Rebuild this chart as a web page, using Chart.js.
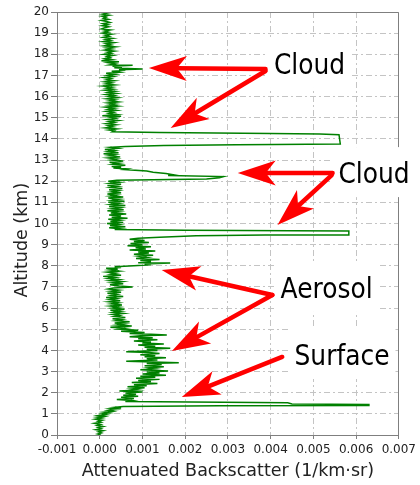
<!DOCTYPE html>
<html>
<head>
<meta charset="utf-8">
<script src="https://cdn.jsdelivr.net/npm/chart.js@4.4.1/dist/chart.umd.min.js"></script>
<style>
  html, body { margin: 0; padding: 0; background: #fff; }
  #wrap { width: 420px; height: 485px; }
</style>
</head>
<body>
<div id="wrap"><canvas id="profileChart" width="420" height="485"></canvas></div>
<script>
// Lidar profile (altitude in km, backscatter in 1/km·sr)
const altitudeKm = [
  20.00, 19.98, 19.95, 19.90, 19.85, 19.80, 19.75, 19.70, 19.65, 19.60,
  19.55, 19.50, 19.45, 19.40, 19.35, 19.30, 19.25, 19.20, 19.15, 19.10,
  19.05, 19.00, 18.95, 18.90, 18.85, 18.80, 18.75, 18.70, 18.65, 18.60,
  18.55, 18.50, 18.45, 18.40, 18.35, 18.30, 18.25, 18.20, 18.15, 18.10,
  18.05, 18.00, 17.95, 17.90, 17.85, 17.80, 17.75, 17.70, 17.65, 17.60,
  17.55, 17.50, 17.48, 17.44, 17.40, 17.36, 17.33, 17.30, 17.27, 17.24,
  17.20, 17.15, 17.10, 17.05, 17.00, 16.95, 16.90, 16.85, 16.80, 16.75,
  16.70, 16.65, 16.60, 16.55, 16.50, 16.45, 16.40, 16.35, 16.30, 16.25,
  16.20, 16.15, 16.10, 16.05, 16.00, 15.95, 15.90, 15.85, 15.80, 15.75,
  15.70, 15.65, 15.60, 15.55, 15.50, 15.45, 15.40, 15.35, 15.30, 15.25,
  15.20, 15.15, 15.10, 15.07, 15.02, 14.97, 14.92, 14.87, 14.82, 14.77,
  14.72, 14.67, 14.62, 14.57, 14.52, 14.47, 14.42, 14.38, 14.34, 14.30,
  14.25, 14.23, 14.20, 13.76, 13.74, 13.72, 13.69, 13.64, 13.60, 13.55,
  13.50, 13.45, 13.40, 13.35, 13.30, 13.25, 13.20, 13.15, 13.10, 13.05,
  13.00, 12.95, 12.90, 12.85, 12.80, 12.75, 12.70, 12.66, 12.62, 12.58,
  12.55, 12.48, 12.42, 12.36, 12.30, 12.27, 12.22, 12.16, 12.10, 12.04,
  12.00, 11.95, 11.90, 11.85, 11.80, 11.75, 11.70, 11.65, 11.60, 11.55,
  11.50, 11.45, 11.40, 11.35, 11.30, 11.25, 11.20, 11.15, 11.10, 11.05,
  11.00, 10.95, 10.90, 10.85, 10.80, 10.75, 10.70, 10.65, 10.60, 10.55,
  10.50, 10.45, 10.40, 10.35, 10.30, 10.25, 10.20, 10.15, 10.10, 10.05,
  10.00, 9.95, 9.90, 9.85, 9.80, 9.75, 9.72, 9.68, 9.66, 9.65,
  9.46, 9.46, 9.42, 9.35, 9.30, 9.25, 9.20, 9.15, 9.10, 9.05,
  9.00, 8.95, 8.90, 8.85, 8.80, 8.75, 8.70, 8.65, 8.60, 8.55,
  8.50, 8.45, 8.40, 8.35, 8.30, 8.25, 8.20, 8.15, 8.13, 8.09,
  8.05, 8.00, 7.96, 7.92, 7.88, 7.84, 7.80, 7.75, 7.70, 7.65,
  7.60, 7.55, 7.50, 7.45, 7.40, 7.35, 7.30, 7.25, 7.20, 7.15,
  7.10, 7.05, 7.00, 6.95, 6.90, 6.85, 6.80, 6.75, 6.70, 6.65,
  6.60, 6.55, 6.50, 6.45, 6.40, 6.35, 6.30, 6.25, 6.20, 6.15,
  6.10, 6.05, 6.00, 5.95, 5.90, 5.85, 5.80, 5.75, 5.70, 5.65,
  5.60, 5.55, 5.50, 5.45, 5.40, 5.35, 5.30, 5.25, 5.20, 5.15,
  5.10, 5.05, 5.00, 4.95, 4.90, 4.85, 4.80, 4.76, 4.73, 4.69,
  4.65, 4.60, 4.55, 4.50, 4.45, 4.40, 4.35, 4.30, 4.25, 4.20,
  4.15, 4.10, 4.05, 4.00, 3.94, 3.90, 3.85, 3.80, 3.75, 3.70,
  3.65, 3.60, 3.55, 3.49, 3.45, 3.42, 3.38, 3.33, 3.28, 3.23,
  3.18, 3.13, 3.08, 3.03, 2.98, 2.93, 2.88, 2.83, 2.78, 2.73,
  2.68, 2.63, 2.58, 2.53, 2.48, 2.43, 2.38, 2.33, 2.28, 2.23,
  2.18, 2.13, 2.08, 2.03, 1.98, 1.93, 1.88, 1.83, 1.78, 1.73,
  1.68, 1.63, 1.58, 1.52, 1.47, 1.44, 1.40, 1.38, 1.35, 1.31,
  1.28, 1.24, 1.20, 1.16, 1.12, 1.08, 1.04, 1.00, 0.96, 0.92,
  0.88, 0.84, 0.80, 0.75, 0.70, 0.65, 0.60, 0.55, 0.50, 0.45,
  0.40, 0.35, 0.30, 0.25, 0.20, 0.15, 0.10, 0.05, 0.00
];

const backscatter = [
  0.00040, 0.00009, 0.00018, 0.00007, 0.00022, 0.00005, 0.00015, 0.00009, 0.00020, 0.00004,
  0.00016, 0.00024, 0.00008, 0.00019, 0.00006, 0.00021, 0.00010, 0.00004, 0.00025, 0.00011,
  0.00020, 0.00007, 0.00028, 0.00013, 0.00022, 0.00009, 0.00030, 0.00014, 0.00025, 0.00009,
  0.00033, 0.00015, 0.00026, 0.00011, 0.00036, 0.00016, 0.00029, 0.00012, 0.00034, 0.00018,
  0.00027, 0.00010, 0.00031, 0.00017, 0.00024, 0.00012, 0.00028, 0.00004, 0.00045, 0.00020,
  0.00036, 0.00024, 0.00077, 0.00030, 0.00052, 0.00034, 0.00065, 0.00100, 0.00045, 0.00060,
  0.00028, 0.00046, 0.00015, 0.00036, 0.00018, 0.00032, 0.00010, 0.00026, 0.00016, 0.00034,
  0.00012, 0.00028, 0.00015, 0.00035, 0.00008, 0.00029, 0.00016, 0.00032, 0.00012, 0.00036,
  0.00020, 0.00039, 0.00015, 0.00034, 0.00021, 0.00041, 0.00017, 0.00036, 0.00023, 0.00043,
  0.00019, 0.00037, 0.00022, 0.00042, 0.00014, 0.00035, 0.00020, 0.00039, 0.00016, 0.00032,
  0.00022, 0.00040, 0.00006, 0.00050, 0.00024, 0.00036, 0.00018, 0.00043, 0.00022, 0.00034,
  0.00016, 0.00038, 0.00020, 0.00031, 0.00014, 0.00040, 0.00021, 0.00034, 0.00030, 0.00140,
  0.00400, 0.00515, 0.00560, 0.00563, 0.00410, 0.00320, 0.00150, 0.00060, 0.00025, 0.00042,
  0.00012, 0.00035, 0.00020, 0.00044, 0.00009, 0.00036, 0.00022, 0.00048, 0.00020, 0.00040,
  0.00026, 0.00055, 0.00023, 0.00046, 0.00030, 0.00060, 0.00028, 0.00050, 0.00032, 0.00065,
  0.00058, 0.00110, 0.00125, 0.00155, 0.00173, 0.00160, 0.00290, 0.00280, 0.00250, 0.00040,
  0.00020, 0.00046, 0.00024, 0.00050, 0.00018, 0.00042, 0.00026, 0.00053, 0.00022, 0.00044,
  0.00028, 0.00050, 0.00018, 0.00040, 0.00025, 0.00055, 0.00020, 0.00046, 0.00029, 0.00058,
  0.00020, 0.00044, 0.00026, 0.00060, 0.00022, 0.00048, 0.00030, 0.00056, 0.00018, 0.00045,
  0.00026, 0.00062, 0.00022, 0.00050, 0.00028, 0.00065, 0.00020, 0.00046, 0.00025, 0.00055,
  0.00017, 0.00044, 0.00024, 0.00060, 0.00022, 0.00048, 0.00035, 0.00200, 0.00450, 0.00583,
  0.00583, 0.00388, 0.00226, 0.00140, 0.00090, 0.00070, 0.00105, 0.00080, 0.00115, 0.00072,
  0.00100, 0.00065, 0.00120, 0.00084, 0.00108, 0.00070, 0.00130, 0.00090, 0.00115, 0.00080,
  0.00125, 0.00092, 0.00110, 0.00085, 0.00140, 0.00095, 0.00120, 0.00090, 0.00165, 0.00105,
  0.00120, 0.00080, 0.00035, 0.00050, 0.00015, 0.00042, 0.00024, 0.00045, 0.00018, 0.00038,
  0.00026, 0.00050, 0.00008, 0.00036, 0.00020, 0.00045, 0.00025, 0.00052, 0.00030, 0.00055,
  0.00024, 0.00046, 0.00077, 0.00032, 0.00020, 0.00044, 0.00026, 0.00050, 0.00018, 0.00040,
  0.00028, 0.00055, 0.00015, 0.00039, 0.00024, 0.00048, 0.00022, 0.00044, 0.00028, 0.00052,
  0.00025, 0.00046, 0.00030, 0.00058, 0.00025, 0.00049, 0.00032, 0.00055, 0.00030, 0.00046,
  0.00034, 0.00060, 0.00030, 0.00052, 0.00038, 0.00070, 0.00035, 0.00058, 0.00040, 0.00075,
  0.00025, 0.00060, 0.00045, 0.00090, 0.00050, 0.00105, 0.00070, 0.00120, 0.00157, 0.00095,
  0.00070, 0.00124, 0.00090, 0.00135, 0.00080, 0.00120, 0.00100, 0.00150, 0.00090, 0.00130,
  0.00105, 0.00165, 0.00110, 0.00135, 0.00062, 0.00115, 0.00140, 0.00095, 0.00130, 0.00105,
  0.00155, 0.00110, 0.00135, 0.00062, 0.00125, 0.00185, 0.00110, 0.00145, 0.00105, 0.00150,
  0.00115, 0.00130, 0.00095, 0.00160, 0.00110, 0.00140, 0.00100, 0.00155, 0.00095, 0.00130,
  0.00085, 0.00140, 0.00090, 0.00120, 0.00075, 0.00135, 0.00080, 0.00110, 0.00065, 0.00105,
  0.00075, 0.00090, 0.00046, 0.00100, 0.00060, 0.00085, 0.00055, 0.00090, 0.00050, 0.00080,
  0.00040, 0.00076, 0.00060, 0.00440, 0.00450, 0.00630, 0.00630, 0.00280, 0.00055, 0.00036,
  0.00050, 0.00025, 0.00038, 0.00020, 0.00030, 0.00010, 0.00022, 0.00006, 0.00015, -0.00003,
  0.00010, -0.00006, 0.00005, -0.00010, 0.00006, -0.00004, 0.00003, -0.00012, 0.00002, -0.00006,
  0.00008, -0.00004, 0.00003, -0.00009, 0.00008, -0.00003, 0.00004, -0.00005, 0.00003
];

// Annotations, in data coordinates (x = backscatter, y = altitude)
const noteLabels = [
  { text: 'Cloud', x: 0.00491, y: 17.07 },
  { text: 'Cloud', x: 0.00642, y: 11.91 },
  { text: 'Aerosol', x: 0.00531, y: 6.48 },
  { text: 'Surface', x: 0.00567, y: 3.31 }
];
const noteArrows = [
  { from: [0.00388, 17.30], to: [0.00115, 17.35] },
  { from: [0.00388, 17.21], to: [0.00166, 14.52] },
  { from: [0.00545, 12.39], to: [0.00323, 12.39] },
  { from: [0.00543, 12.29], to: [0.00416, 9.93] },
  { from: [0.00404, 6.62], to: [0.00145, 7.80] },
  { from: [0.00404, 6.62], to: [0.00169, 3.97] },
  { from: [0.00427, 3.69], to: [0.00192, 1.80] }
];

const profilePoints = altitudeKm.map((alt, i) => ({ x: backscatter[i], y: alt }));

const axisGray = '#7f7f7f';
const gridGray = '#c4c4c4';

// frame, arrows and text notes on top of the plot
const notesPlugin = {
  id: 'notes',
  afterDraw(chart) {
    const { ctx, chartArea: a, scales } = chart;
    const xs = scales.x, ys = scales.y;
    ctx.save();

    // top and right edges of the frame
    ctx.strokeStyle = axisGray;
    ctx.lineWidth = 1;
    ctx.beginPath();
    ctx.moveTo(Math.floor(a.left) + 0.5, Math.floor(a.top) + 0.5);
    ctx.lineTo(Math.floor(a.right) + 0.5, Math.floor(a.top) + 0.5);
    ctx.lineTo(Math.floor(a.right) + 0.5, Math.floor(a.bottom) + 0.5);
    ctx.stroke();

    const fontPx = 29;
    const squeeze = 0.86;
    ctx.font = fontPx + 'px "DejaVu Sans"';

    // white boxes behind the words
    noteLabels.forEach(n => {
      const cx = xs.getPixelForValue(n.x);
      const by = ys.getPixelForValue(n.y);
      const w = ctx.measureText(n.text).width * squeeze;
      ctx.fillStyle = '#ffffff';
      ctx.fillRect(cx - w / 2 - 6, by - 36, w + 12, 50);
    });

    // arrows
    ctx.strokeStyle = '#ff0000';
    ctx.fillStyle = '#ff0000';
    ctx.lineWidth = 4.5;
    ctx.lineCap = 'round';
    noteArrows.forEach(ar => {
      const x0 = xs.getPixelForValue(ar.from[0]), y0 = ys.getPixelForValue(ar.from[1]);
      const x1 = xs.getPixelForValue(ar.to[0]), y1 = ys.getPixelForValue(ar.to[1]);
      const ang = Math.atan2(y1 - y0, x1 - x0);
      const c = Math.cos(ang), s = Math.sin(ang);
      const headLen = 38, half = 12.5, notch = 28;
      const nx = x1 - notch * c, ny = y1 - notch * s;
      ctx.beginPath();
      ctx.moveTo(x0, y0);
      ctx.lineTo(nx, ny);
      ctx.stroke();
      const bx = x1 - headLen * c, by = y1 - headLen * s;
      ctx.beginPath();
      ctx.moveTo(x1, y1);
      ctx.lineTo(bx - s * half, by + c * half);
      ctx.lineTo(nx, ny);
      ctx.lineTo(bx + s * half, by - c * half);
      ctx.closePath();
      ctx.fill();
    });

    // words
    ctx.fillStyle = '#000000';
    ctx.textAlign = 'center';
    ctx.textBaseline = 'alphabetic';
    noteLabels.forEach(n => {
      const cx = xs.getPixelForValue(n.x);
      const by = ys.getPixelForValue(n.y);
      ctx.save();
      ctx.translate(cx, by);
      ctx.scale(squeeze, 1);
      ctx.fillText(n.text, 0, 0);
      ctx.restore();
    });

    ctx.restore();
  }
};

const ctx = document.getElementById('profileChart').getContext('2d');
const profileChart = new Chart(ctx, {
  type: 'scatter',
  data: {
    datasets: [{
      label: 'Attenuated Backscatter',
      data: profilePoints,
      showLine: true,
      borderColor: '#008000',
      backgroundColor: '#008000',
      borderWidth: 1.5,
      pointRadius: 0,
      pointHoverRadius: 0,
      tension: 0
    }]
  },
  options: {
    responsive: false,
    animation: false,
    layout: {
      padding: { top: 12, right: 17, left: 0, bottom: 0 }
    },
    plugins: {
      legend: { display: false },
      tooltip: { enabled: false }
    },
    scales: {
      x: {
        type: 'linear',
        min: -0.001,
        max: 0.007,
        afterFit: function(scale) { scale.height = 50; },
        ticks: {
          stepSize: 0.001,
          padding: 4,
          color: '#222',
          font: { family: 'DejaVu Sans', size: 12 },
          maxRotation: 0,
          callback: function(value) { return value.toFixed(3); }
        },
        grid: {
          color: gridGray,
          tickColor: axisGray,
          tickLength: 4
        },
        border: { color: axisGray, dash: [6, 3, 2, 3] },
        title: {
          display: true,
          text: 'Attenuated Backscatter (1/km\u00b7sr)',
          color: '#222',
          font: { family: 'DejaVu Sans', size: 17.5, weight: 'normal' },
          padding: { top: 0, bottom: 3 }
        }
      },
      y: {
        type: 'linear',
        min: 0,
        max: 20,
        afterFit: function(scale) { scale.width = 57; },
        ticks: {
          stepSize: 1,
          padding: 2,
          color: '#222',
          font: { family: 'DejaVu Sans', size: 12 }
        },
        grid: {
          color: gridGray,
          tickColor: axisGray,
          tickLength: 6
        },
        border: { color: axisGray, dash: [6, 3, 2, 3] },
        title: {
          display: true,
          text: 'Altitude (km)      ',
          color: '#222',
          font: { family: 'DejaVu Sans', size: 17.5, weight: 'normal' },
          padding: { top: 12, bottom: 0 }
        }
      }
    }
  },
  plugins: [notesPlugin]
});
</script>
</body>
</html>
